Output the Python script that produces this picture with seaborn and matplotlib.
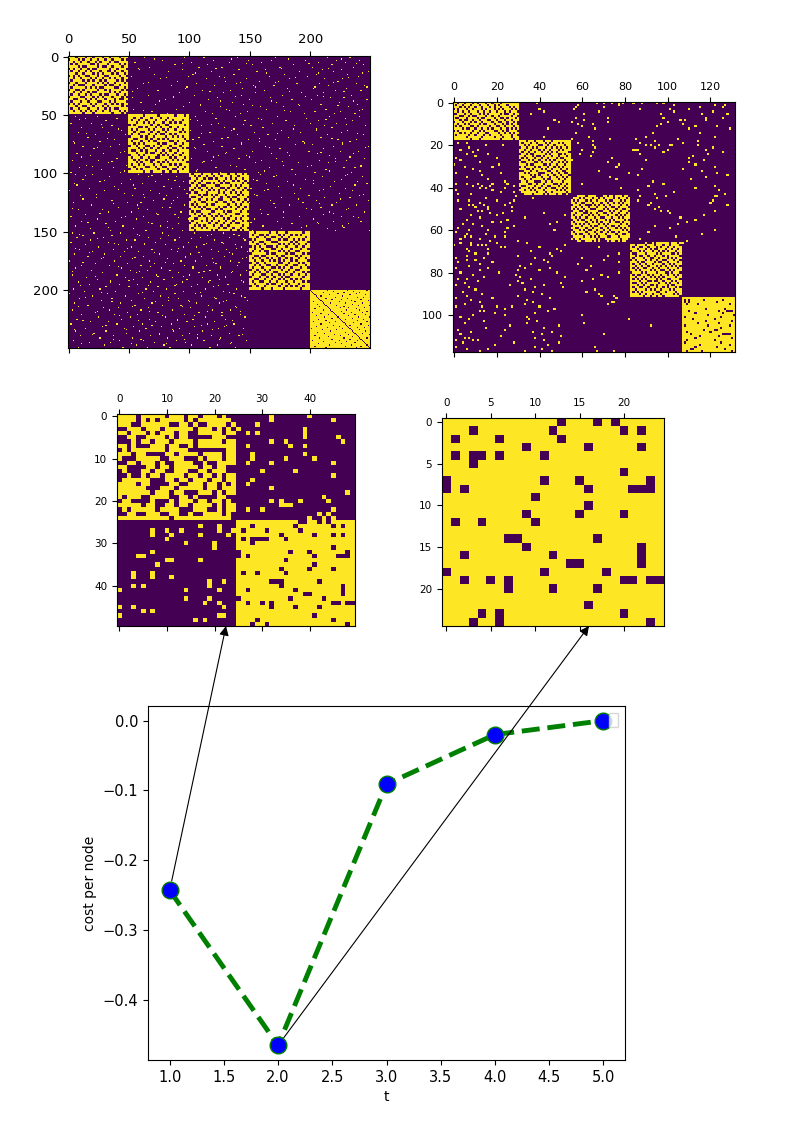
import numpy as np
import matplotlib
matplotlib.use("Agg")
import matplotlib.pyplot as plt
import seaborn as sns
from matplotlib.patches import Patch

# line panel
t_values = [1.0, 2.0, 3.0, 4.0, 5.0]
cost_values = [-0.243, -0.465, -0.091, -0.02, 0.0]

# 25x25 panel: dark cells per row, read cell by cell
m4_dark = {0: [13, 17, 19], 1: [3, 12, 20, 22], 2: [1, 6, 13], 3: [9, 16, 22], 4: [1, 3, 4, 6, 11],
           5: [3], 6: [20], 7: [0, 11, 15, 23], 8: [0, 2, 16, 21, 22, 23], 9: [10], 10: [16],
           11: [9, 15, 20], 12: [1, 4, 10], 14: [7, 8, 17], 15: [9, 22], 16: [2, 12, 22],
           17: [14, 15, 22], 18: [0, 11, 18], 19: [2, 5, 7, 20, 21, 23, 24], 20: [7, 12, 17],
           22: [16], 23: [4, 6, 20], 24: [3, 6, 23]}

# 50x50 panel: top left block is approximate, the other three were estimated cell by cell
m3_top_left = [
    "11110 11111 01110 11011 10100",
    "11110 10101 11110 10111 11110",
    "11100 11111 10011 01001 11101",
    "00111 01110 11111 10111 01010",
    "11011 10101 11011 00111 11011",
    "00110 01111 01011 00000 11100",
    "00010 11011 10111 10111 11011",
    "11010 00111 01100 10111 11111",
    "01011 11111 01111 00000 00011",
    "11101 10000 11011 11011 11011",
    "10001 11110 01110 00101 11011",
    "00110 11101 00111 10010 01111",
    "11000 01101 10111 11011 01100",
    "01000 11011 00111 00110 11100",
    "00100 10110 11110 11011 01011",
    "01111 11000 11011 01110 11011",
    "11110 11000 01100 11101 10101",
    "11111 10001 11011 11101 10111",
    "11111 11011 10110 00111 01011",
    "10111 00111 10011 01000 01100",
    "01100 00100 01011 10110 11010",
    "11111 01100 11011 01111 01011",
    "01011 11101 11100 01110 01011",
    "00110 01110 01100 10011 11010",
    "11111 11111 10111 11111 11110",
]
m3_top_right = {0: [32, 40], 1: [32, 45], 2: [29], 3: [25, 39], 4: [27, 29, 39], 5: [39, 46], 6: [32, 35, 47],
                7: [27, 36, 39], 9: [28, 39], 10: [28, 35, 41], 11: [27, 32, 45], 13: [30, 37], 14: [45],
                15: [28], 16: [27], 17: [32], 18: [48], 19: [43], 20: [32, 34, 38, 44], 21: [34, 35, 36],
                22: [27, 30, 45], 23: [42, 44], 24: [40, 43, 45]}
m3_bottom_left = {26: [17, 21], 27: [7, 10, 13, 21, 24], 28: [7, 11, 17, 23], 29: [10], 30: [14, 20], 31: [20],
                  32: [7], 33: [4, 5], 34: [10, 11, 17], 35: [8], 37: [3, 7], 38: [3, 7, 11], 39: [19, 22],
                  40: [3, 5, 19], 41: [0, 14, 21], 43: [14, 19], 44: [18, 21], 45: [0, 3, 22], 46: [5, 7],
                  47: [0, 21, 22], 48: [16, 18]}
m3_bottom_right_dark = {25: [38, 39, 42, 44], 26: [28, 37, 45, 47], 27: [26, 31, 38], 28: [34, 41, 45, 47],
                        29: [26, 28, 29, 30, 31, 35], 30: [28], 31: [45], 32: [25, 36, 40, 48],
                        33: [25, 27, 41, 46, 47, 48], 34: [35], 35: [41], 36: [34, 40, 45], 37: [26, 29, 35],
                        39: [32, 33, 34, 42], 40: [34, 47], 41: [27, 37, 47], 42: [39, 40, 47],
                        43: [25, 36, 43], 44: [27, 30, 32, 45, 46, 48, 49], 45: [32, 37, 42], 47: [41],
                        48: [29, 45], 49: [28, 31, 48]}

# 132x118 panel: block edges, cell patterns hand-typed to match the look only
m2_rows = [0, 18, 44, 66, 92, 118]
m2_cols = [0, 31, 55, 83, 107, 132]
m2_block1 = [
    "11011 01110 10111 01101 11011 111111",
    "10110 11101 11011 10110 10111 011111",
    "11101 01011 01101 11010 11011 101011",
    "01011 10110 11101 01110 10101 110101",
    "11010 11011 10110 11011 01110 101110",
    "00111 01101 11010 10111 11010 011011",
    "11100 11010 01111 01101 10111 110110",
    "10011 10111 10100 11110 11001 011101",
    "11101 00110 11011 10011 01110 110111",
    "01110 11101 01101 11101 10011 011010",
    "11011 01011 11010 01110 11101 010110",
    "10101 11100 10111 11011 00110 111011",
    "11110 10011 01101 10101 11011 010101",
    "01011 11110 11010 11110 01101 011110",
    "11101 01101 10111 00111 10110 101011",
    "10111 11011 01110 11011 11011 110110",
    "11111 10111 11101 11110 11101 110111",
    "11111 11101 11011 11111 11011 111011",
]
m2_block2 = [
    "11101 11011 10111 01111 1111",
    "10111 01101 11010 11101 0111",
    "11010 11110 01101 10111 1011",
    "01101 10101 11011 01010 1101",
    "11011 01110 10110 11101 0111",
    "10110 11011 01101 01011 1110",
    "01101 00111 11010 11100 1011",
    "11011 10100 10111 01101 1101",
    "10101 11011 01101 11010 0111",
    "01110 10110 11010 10111 1011",
    "10011 11001 01111 01101 0101",
    "11101 00111 10010 11011 1011",
    "01011 11010 11101 10101 0111",
    "11100 10111 01011 01110 1101",
    "00111 01101 11100 11011 0011",
    "11010 11110 00111 01101 1001",
    "11111 01010 11101 10110 1110",
    "10111 10011 01110 11011 0101",
    "11011 01111 10100 11101 1011",
    "01101 11000 11011 01111 0111",
    "11110 01101 10111 10010 1101",
    "10011 11011 01100 11101 1011",
    "01110 10110 11011 00111 0101",
    "11011 01011 10111 11010 1011",
    "01111 11101 11011 01111 1101",
    "00111 10111 10101 11011 0010",
]
m2_block3 = [
    "00011 11011 11000 11011 01110 110",
    "01110 10111 01101 01111 01011 101",
    "10101 11010 11011 10100 11101 011",
    "11011 00111 01110 11011 01010 111",
    "01110 11000 10101 01101 11101 101",
    "11011 01101 11011 10110 01011 110",
    "10101 10110 00111 01011 10110 011",
    "01110 01011 11100 11101 01101 110",
    "11011 10010 11011 00110 11011 101",
    "10111 01101 01101 11011 10101 011",
    "11010 11011 10110 01110 11010 111",
    "01101 00110 11011 10101 01111 010",
    "10111 11011 01010 11101 10010 111",
    "11010 10101 11101 01011 11101 101",
    "01111 01110 10011 10110 01011 110",
    "11001 11011 01110 11011 10101 011",
    "01110 10100 11011 01101 11110 101",
    "10111 11011 10110 11010 01011 110",
    "11010 01101 11011 10111 10110 011",
    "01111 10110 10101 11001 11011 111",
    "10110 11111 11010 01111 11101 110",
    "00011 00111 01010 00101 10101 100",
]
m2_block4 = [
    "00000 00100 10111 11101 1101",
    "11011 11011 10111 01101 1110",
    "10110 01101 11010 11011 0111",
    "11101 11010 10011 10110 1101",
    "01110 10111 01101 01011 1011",
    "10011 11011 11010 11110 0101",
    "11010 01101 10111 01011 1110",
    "10111 10110 01101 11010 1011",
    "01011 11010 11011 00111 0110",
    "11101 00111 10100 11011 1101",
    "10110 11011 01111 01101 0111",
    "11011 01101 11010 10110 1010",
    "10101 10011 01101 11011 1101",
    "11010 11110 10110 01101 0111",
    "01111 01011 11011 10010 1110",
    "10100 11101 01110 11011 0101",
    "11011 10110 10101 01111 1011",
    "10101 01011 11010 11001 1110",
    "11110 11100 10011 01110 1011",
    "10011 01011 11101 10101 1101",
    "11101 10110 01011 11010 0111",
    "10110 01101 11011 01011 1010",
    "11011 11010 10110 11101 0111",
    "10101 01111 11001 10111 1011",
    "11110 11011 01110 11111 0101",
    "11111 10110 11011 01111 1110",
]
m2_block5_dark = {93: [108, 110, 117, 126], 94: [108, 110, 123], 95: [109, 114, 129],
                  97: [118, 127], 98: [110, 124, 128, 129, 130], 99: [113, 126], 100: [119, 131],
                  101: [108, 125], 102: [112, 122], 103: [118, 130], 104: [114, 124], 105: [108, 119, 129],
                  106: [125], 107: [117, 122, 123], 108: [109, 120], 109: [111, 126, 127, 128, 129],
                  110: [115, 124], 111: [113, 130], 112: [109, 122], 113: [108, 125], 114: [115, 129],
                  115: [113, 123], 116: [111, 112, 127], 117: [109, 116, 130]}
m2_specks = {0: [39, 67, 70, 74, 77, 79, 84, 88, 95, 98], 1: [58, 77, 103, 122, 127], 2: [57, 70, 115, 126],
             3: [40, 56, 87, 101, 110], 4: [42, 68, 103, 121], 5: [36, 61, 97, 116, 128],
             7: [57, 72, 98, 118, 126], 8: [47, 61, 106, 108, 118], 9: [49, 55, 72, 100],
             10: [58, 65, 97, 107], 11: [60, 95, 113, 123], 12: [44, 66, 110, 129],
             14: [57, 93, 115], 16: [42, 63, 90, 122], 17: [55, 73, 85, 105],
             18: [65, 94, 114], 19: [2, 6, 58, 87, 107], 20: [15, 23, 65, 90, 92, 96, 101, 102, 114],
             21: [7, 66, 94, 121], 22: [3, 11, 60, 84, 85, 86, 100, 118], 23: [9, 65, 98, 126],
             24: [6, 16, 59, 87, 119], 25: [10, 64, 112], 26: [1, 20, 74, 110],
             27: [3, 55, 90, 117], 28: [12, 72, 110], 29: [0, 21, 77, 113], 30: [5, 18, 76, 122],
             31: [9, 88, 107], 32: [12, 68, 116], 33: [1, 22, 82, 123], 34: [13, 86, 128],
             35: [6, 73, 118], 36: [16, 76, 111], 37: [24, 93], 38: [1, 6, 11, 18, 25, 60, 98],
             39: [9, 13, 17, 28, 91, 122], 40: [12, 15, 24, 78, 113], 41: [1, 18, 86, 124],
             42: [22, 28, 103], 43: [2, 8, 94, 127], 44: [29, 87, 99, 122, 123], 45: [15, 37, 95],
             46: [2, 7, 20, 28, 86, 121], 47: [12, 26, 92, 120], 48: [7, 9, 14, 24, 91, 128],
             49: [10, 16, 27, 96], 50: [3, 16, 94], 51: [11, 13, 27, 97, 100, 122],
             52: [17, 23, 42, 101], 53: [8, 20, 52, 117], 54: [12, 33, 106], 55: [6, 25, 113],
             56: [18, 22, 48, 109], 57: [4, 9, 45, 105], 58: [13, 28, 94], 59: [2, 25, 101],
             60: [7, 16, 47, 122], 61: [1, 24, 91], 62: [6, 15, 116], 63: [5, 8, 19, 24, 104],
             64: [3, 12, 87], 65: [17, 30, 109], 66: [3, 8, 20, 34, 107], 67: [0, 8, 11, 13, 15, 52],
             68: [22, 24, 40, 68], 69: [6, 16, 48], 70: [7, 36, 50], 71: [10, 16, 45, 77],
             72: [6, 30, 46, 72], 73: [1, 14, 38, 60], 74: [6, 10, 42, 70], 75: [2, 18, 44, 77],
             76: [12, 36, 58], 77: [7, 31, 64], 78: [1, 16, 33, 45], 79: [12, 30, 40, 62],
             80: [3, 21, 48, 77], 81: [9, 29, 69], 82: [14, 31, 52, 72], 83: [2, 6, 36, 65],
             84: [11, 30, 60], 85: [5, 32, 50], 86: [1, 26, 42], 87: [7, 38, 51], 88: [10, 33, 66],
             89: [4, 37, 62], 90: [13, 41, 68], 91: [6, 30, 69, 75], 92: [1, 18, 45, 76], 93: [8, 34],
             94: [12, 37, 74, 75], 95: [5, 33, 72], 96: [1, 13, 20, 27, 40], 97: [24, 47], 98: [12, 14, 44],
             99: [19, 38], 100: [9, 24, 60], 101: [3, 34], 102: [7, 35, 82], 103: [14, 39], 104: [5, 34, 61],
             105: [26, 49, 92], 106: [15, 42], 107: [2, 24], 108: [8, 37, 46], 109: [3, 41, 70], 110: [22, 50],
             111: [5, 7, 38], 112: [1, 9, 11, 42], 113: [4, 28, 49], 114: [19, 44], 115: [1, 38, 66],
             116: [6, 16, 41], 117: [12, 33, 46, 67, 75]}

# 250x250 panel: too fine to read, hand-typed to match the look only. Diagonal blocks are in 2-cell steps
m1_block1 = [
    "11101 11011 01110 11011 10111", "01110 10110 11011 01101 11010", "11011 01101 10101 11010 01111",
    "10101 11110 01011 10111 10101", "11110 10011 11010 01101 11011", "01011 01101 00111 11011 01110",
    "10110 11010 11101 10010 11011", "11101 10111 01010 11101 01101", "01010 11001 11011 00111 10110",
    "11011 01110 10110 11010 11011", "10111 10101 01101 01111 01010", "01101 11011 11010 10110 11101",
    "11010 00111 01111 01001 10111", "10111 11010 10100 11110 01101", "01100 10111 11011 01011 11010",
    "11011 01101 00111 11010 10111", "10110 11010 11101 00111 01101", "01111 00111 01010 11101 11010",
    "11001 11010 10111 01110 10011", "10111 01101 11001 11010 11110", "01010 11110 10111 01101 01011",
    "11101 10011 01110 10111 11010", "10110 11101 11011 01010 01111", "11011 01010 10110 11011 10101",
    "11111 10111 01111 11101 11010",
]
m1_block2 = [
    "11111 10111 11011 11110 11101", "11011 01110 11101 10111 11111", "10110 11011 10111 01101 11011",
    "11101 10101 01110 11010 10111", "01011 11110 11011 00111 11101", "11110 01011 10101 11011 01111",
    "10101 11101 01110 10110 11011", "11011 00110 11011 01111 10101", "10110 11101 10100 11010 11111",
    "01111 01011 01111 01101 01011", "11001 11010 11010 10111 11101", "10111 01101 00111 11001 01110",
    "11010 10111 11010 01110 11011", "01101 11001 01101 11011 10111", "11110 10110 11011 10100 11010",
    "10011 01011 10110 11011 01111", "11101 11010 01101 01110 11011", "01110 10111 11010 10101 10111",
    "10111 01101 10011 11010 11101", "11010 11010 01111 01101 01011", "11101 01110 11010 10111 11110",
    "10110 10111 01101 11010 10111", "11011 11001 10110 01111 01101", "01101 01111 11011 10100 11011",
    "11111 10110 11110 11011 01111",
]
m1_block3 = [
    "10111 01110 11011 10110 11010", "11010 11011 01101 11011 01111", "01101 10100 10111 01010 11011",
    "11011 01111 11010 11101 01101", "10110 11001 01101 00111 11010", "01101 00111 10011 11010 10111",
    "11010 11010 11100 10111 01101", "10111 01101 01011 01101 11010", "01001 11011 11010 11010 10111",
    "11110 10010 10111 01111 01011", "10011 01111 01101 10100 11110", "01110 11010 11001 11011 01101",
    "11011 00111 10110 01101 11010", "10101 11010 01111 10110 10111", "11010 10111 11010 01011 01101",
    "01111 01001 10101 11110 11011", "10100 11110 01110 10011 10110", "11011 01101 11011 01110 01111",
    "01110 10110 10101 11011 11010", "11001 11011 01110 10110 10111", "10111 01010 11011 01101 11010",
    "01101 11101 10110 11010 01111", "11010 10111 01101 10111 11011", "10111 01011 11010 01101 10110",
    "11011 11110 10111 11011 01011",
]
m1_block4 = [
    "11011 11101 10111 01111 11011", "10110 01011 11010 11010 10111", "11101 10110 01101 10111 11101",
    "01011 11001 11010 01101 01011", "10110 01110 00111 11010 11110", "11101 10111 11010 10101 01101",
    "01010 11000 10111 01110 11011", "11011 01110 01101 11011 10110", "10110 10011 11010 10110 01111",
    "01111 11010 01111 01001 11010", "11001 00111 10100 11110 10111", "10110 11010 11011 01011 01101",
    "11011 01101 01010 11010 11110", "01101 10111 11001 10111 01011", "11010 11001 10111 01100 11101",
    "10111 01110 01010 11011 10110", "01101 10101 11101 10110 01111", "11010 11011 00111 01101 11010",
    "10111 00110 11010 11011 01101", "01110 11011 01101 00111 11011", "11001 10110 11010 11010 10111",
    "10110 01101 10111 01101 11010", "11011 11010 01101 10111 01111", "01101 10111 11011 01010 11011",
    "11111 01110 11110 11111 10111",
]
# fifth block is nearly full, with a dark diagonal
m1_block5_dark = {200: [200, 214, 231, 247], 201: [201, 219, 236], 202: [202, 211, 228, 241], 203: [203, 223, 238], 204: [204, 216, 233, 246],
                  205: [205, 209, 227], 206: [206, 221, 239, 244], 207: [207, 213, 231], 208: [208, 218, 226, 242], 209: [209, 234, 248],
                  210: [203, 210, 224, 237], 211: [211, 217, 229, 243], 212: [212, 206, 235], 213: [213, 222, 240, 249], 214: [214, 208, 228],
                  215: [215, 225, 232, 245], 216: [216, 204, 238], 217: [217, 211, 230, 241], 218: [218, 226, 247], 219: [219, 202, 234, 243],
                  220: [220, 209, 228], 221: [221, 215, 237, 246], 222: [222, 205, 232], 223: [223, 212, 240, 249], 224: [224, 218, 235],
                  225: [225, 207, 229, 244], 226: [226, 213, 239], 227: [227, 203, 221, 247], 228: [228, 216, 236], 229: [229, 209, 242],
                  230: [230, 219, 233, 248], 231: [231, 205, 224], 232: [232, 214, 239, 245], 233: [233, 201, 227], 234: [234, 210, 222, 241],
                  235: [235, 217, 246], 236: [236, 206, 229], 237: [237, 212, 243], 238: [238, 220, 232, 249], 239: [239, 204, 225],
                  240: [240, 215, 235], 241: [241, 208, 228, 247], 242: [242, 218, 233], 243: [243, 202, 224, 239], 244: [244, 211, 230],
                  245: [245, 221, 237], 246: [246, 207, 226], 247: [247, 216, 234], 248: [248, 204, 229, 242], 249: [249, 213, 238]}
m1_specks = {
    1: [63, 96, 112, 140, 171, 214, 233], 3: [78, 120, 149, 168, 196, 222, 241], 5: [55, 102, 133, 160, 207, 229], 7: [88, 115, 152, 186, 218, 244],
    9: [67, 108, 127, 175, 202, 236], 11: [59, 94, 141, 163, 210, 226], 13: [83, 118, 156, 191, 219, 248], 15: [71, 103, 137, 179, 205, 231],
    17: [52, 99, 125, 166, 198, 240], 19: [76, 114, 147, 183, 212, 227], 21: [90, 130, 158, 174, 223], 23: [62, 106, 139, 189, 208, 238],
    25: [85, 121, 153, 170, 215, 245], 27: [57, 97, 144, 181, 203, 230], 29: [74, 111, 134, 162, 221, 242], 31: [92, 128, 155, 193, 211],
    33: [66, 104, 143, 177, 206, 234], 35: [53, 87, 123, 167, 217, 228], 37: [80, 116, 150, 185, 201, 247], 39: [60, 100, 136, 172, 224],
    41: [72, 109, 145, 190, 209, 239], 43: [95, 126, 159, 178, 232], 45: [54, 89, 131, 164, 213, 243], 47: [69, 113, 148, 184, 204, 225],
    49: [82, 119, 142, 195, 220, 237], 51: [6, 24, 105, 138, 173, 216, 241], 53: [14, 40, 122, 157, 197, 229], 55: [31, 107, 146, 180, 207, 235],
    57: [2, 19, 124, 169, 200, 222], 59: [36, 110, 151, 187, 212, 246], 61: [11, 28, 129, 161, 218], 63: [44, 101, 135, 176, 205, 231],
    65: [8, 33, 117, 154, 192, 226], 67: [22, 47, 140, 165, 214, 244], 69: [16, 108, 132, 182, 209], 71: [38, 103, 149, 171, 223, 238],
    73: [4, 26, 120, 158, 194, 233], 75: [42, 112, 143, 188, 202, 227], 77: [12, 35, 127, 163, 219, 248], 79: [21, 105, 137, 175, 211],
    81: [46, 115, 152, 199, 225, 240], 83: [7, 29, 130, 168, 206, 236], 85: [18, 124, 147, 183, 216], 87: [40, 102, 141, 172, 221, 245],
    89: [3, 25, 118, 160, 208, 230], 91: [33, 111, 155, 190, 215], 93: [15, 48, 134, 178, 201, 242], 95: [9, 37, 122, 166, 228, 237],
    97: [27, 107, 146, 185, 213], 99: [2, 43, 126, 157, 204, 234], 101: [6, 20, 58, 77, 159, 188, 231], 103: [34, 66, 89, 170, 210, 243],
    105: [12, 51, 83, 153, 196, 226], 107: [26, 72, 95, 181, 220, 239], 109: [5, 44, 61, 164, 203, 247], 111: [38, 79, 92, 174, 217],
    113: [17, 55, 85, 151, 192, 229], 115: [1, 30, 68, 162, 208, 235], 117: [46, 75, 98, 187, 224], 119: [10, 53, 81, 156, 199, 241],
    121: [23, 63, 90, 176, 212, 233], 123: [36, 70, 87, 167, 205, 248], 125: [4, 49, 60, 150, 194, 222], 127: [19, 57, 96, 183, 218, 238],
    129: [41, 78, 84, 171, 209], 131: [8, 28, 65, 159, 201, 230], 133: [33, 52, 93, 178, 216, 245], 135: [14, 74, 88, 165, 211],
    137: [2, 47, 62, 191, 226, 236], 139: [24, 56, 99, 154, 203], 141: [11, 39, 82, 173, 219, 242], 143: [31, 69, 91, 185, 207, 232],
    145: [6, 45, 76, 161, 197, 227], 147: [18, 54, 86, 176, 214], 149: [35, 64, 94, 152, 221, 249], 151: [3, 21, 43, 78, 104, 128],
    153: [12, 36, 59, 83, 115, 141], 155: [7, 29, 66, 92, 109, 133], 157: [18, 48, 55, 88, 121, 146], 159: [2, 33, 72, 99, 127],
    161: [14, 41, 63, 80, 112, 138], 163: [25, 52, 95, 106, 143], 165: [9, 37, 69, 85, 118, 131], 167: [20, 46, 58, 90, 124, 148],
    169: [5, 30, 75, 101, 136], 171: [16, 43, 62, 97, 110, 129], 173: [27, 53, 82, 119, 144], 175: [1, 38, 67, 93, 105, 134],
    177: [22, 49, 71, 87, 122], 179: [11, 34, 60, 96, 114, 140], 181: [6, 44, 77, 103, 126], 183: [19, 51, 65, 84, 117, 147],
    185: [28, 56, 91, 108, 135], 187: [3, 40, 73, 100, 123, 142], 189: [15, 47, 61, 86, 111, 130], 191: [24, 54, 79, 98, 125],
    193: [8, 35, 68, 94, 116, 145], 195: [17, 42, 57, 89, 107, 132], 197: [31, 50, 74, 102, 120], 199: [4, 26, 64, 81, 113, 139],
    201: [13, 39, 70, 95, 128], 203: [1, 32, 58, 88, 105, 137], 205: [20, 47, 76, 110, 143], 207: [9, 36, 63, 91, 122],
    209: [27, 52, 83, 99, 131, 148], 211: [5, 43, 69, 106, 125], 213: [16, 55, 78, 93, 116], 215: [29, 41, 66, 101, 139],
    217: [3, 34, 60, 86, 119, 134], 219: [22, 49, 74, 108, 127], 221: [11, 38, 57, 96, 142], 223: [25, 51, 80, 113, 146],
    225: [7, 44, 67, 90, 103, 130], 227: [18, 33, 72, 98, 121], 229: [2, 40, 61, 85, 115, 137], 231: [28, 54, 77, 104, 129],
    233: [14, 46, 64, 92, 124, 145], 235: [6, 31, 59, 87, 111], 237: [21, 48, 75, 100, 133], 239: [10, 37, 68, 94, 118, 141],
    241: [26, 53, 82, 107, 126], 243: [4, 42, 62, 89, 112, 147], 245: [17, 35, 71, 97, 135], 247: [30, 56, 79, 102, 123],
    249: [8, 45, 65, 84, 117, 138],
}
m1_specks_even = {
    2: [71, 135, 182, 226], 6: [94, 147, 199, 238], 10: [58, 122, 176, 215], 14: [105, 164, 207, 243], 18: [81, 129, 188, 232],
    22: [66, 142, 171, 219], 26: [98, 155, 204, 247], 30: [53, 117, 183, 228], 34: [87, 138, 196, 211], 38: [75, 126, 168, 236],
    42: [109, 152, 191, 223], 46: [62, 133, 179, 241], 54: [9, 101, 160, 213], 58: [27, 118, 145, 230], 62: [41, 137, 186, 205],
    66: [15, 110, 173, 239], 70: [32, 127, 158, 218], 74: [5, 143, 195, 227], 78: [24, 104, 166, 246], 82: [43, 131, 181, 209],
    86: [11, 120, 150, 233], 90: [36, 112, 177, 221], 94: [20, 139, 198, 242], 98: [46, 106, 162, 216], 102: [14, 69, 172, 229],
    106: [30, 88, 156, 203], 110: [7, 54, 186, 237], 114: [41, 96, 165, 211], 118: [23, 62, 154, 244], 122: [12, 79, 190, 225],
    126: [37, 85, 170, 208], 130: [3, 58, 197, 232], 134: [26, 73, 160, 219], 138: [44, 91, 178, 240], 142: [16, 66, 151, 206],
    146: [33, 82, 193, 228], 152: [9, 57, 118, 137], 156: [24, 76, 102, 145], 160: [38, 63, 114, 128], 164: [6, 49, 91, 139],
    168: [17, 71, 108, 133], 172: [29, 55, 97, 147], 176: [12, 80, 120, 141], 180: [41, 68, 103, 126], 184: [3, 59, 112, 136],
    188: [22, 74, 95, 130], 192: [35, 50, 117, 143], 196: [10, 66, 88, 124], 202: [27, 61, 109, 133], 206: [14, 83, 121, 146],
    210: [36, 72, 100, 128], 214: [8, 53, 94, 138], 218: [24, 67, 115, 142], 222: [42, 78, 104, 127], 226: [12, 58, 90, 136],
    230: [31, 69, 110, 131], 234: [5, 48, 86, 119], 238: [20, 75, 107, 144], 242: [37, 60, 96, 125], 246: [11, 52, 81, 134],
}


def fill_rows(mat, r0, c0, rows, step=1):
    for i, row in enumerate(rows):
        for j, ch in enumerate(row.replace(" ", "")):
            if ch == "1":
                mat[r0 + i * step:r0 + (i + 1) * step, c0 + j * step:c0 + (j + 1) * step] = 1


def set_cells(mat, cells, value):
    for r, cols in cells.items():
        for c in cols:
            mat[r, c] = value


m1 = np.zeros((250, 250))
for k, block in enumerate([m1_block1, m1_block2, m1_block3, m1_block4]):
    fill_rows(m1, k * 50, k * 50, block, step=2)
m1[200:, 200:] = 1
set_cells(m1, m1_block5_dark, 0)
set_cells(m1, m1_specks, 1)
set_cells(m1, m1_specks_even, 1)

m2 = np.zeros((118, 132))
for k, block in enumerate([m2_block1, m2_block2, m2_block3, m2_block4]):
    fill_rows(m2, m2_rows[k], m2_cols[k], block)
m2[92:, 107:] = 1
set_cells(m2, m2_block5_dark, 0)
set_cells(m2, m2_specks, 1)

m3 = np.zeros((50, 50))
fill_rows(m3, 0, 0, m3_top_left)
m3[25:, 25:] = 1
set_cells(m3, m3_bottom_right_dark, 0)
set_cells(m3, m3_top_right, 1)
set_cells(m3, m3_bottom_left, 1)

m4 = np.ones((25, 25))
set_cells(m4, m4_dark, 0)

W, H = 794, 1123
fig = plt.figure(figsize=(W / 100, H / 100), dpi=100)


def add_px_axes(left, top, right, bottom):
    return fig.add_axes([left / W, 1 - bottom / H, (right - left) / W, (bottom - top) / H])


def draw_matrix(mat, box, xticks, yticks, fontsize):
    ax = add_px_axes(*box)
    sns.heatmap(mat, ax=ax, cmap="viridis", vmin=0, vmax=1, cbar=False, xticklabels=False, yticklabels=False)
    ax.set_xticks(np.array(xticks) + 0.5)
    ax.set_yticks(np.array(yticks) + 0.5)
    ax.set_xticklabels(xticks, fontsize=fontsize, rotation=0)
    ax.set_yticklabels(yticks, fontsize=fontsize, rotation=0)
    ax.tick_params(axis="x", top=True, bottom=True, labeltop=True, labelbottom=False)
    for s in ax.spines.values():
        s.set_visible(True)
    return ax


ax1 = draw_matrix(m1, (68, 56, 370, 348), [0, 50, 100, 150, 200], [0, 50, 100, 150, 200], 9.5)
ax2 = draw_matrix(m2, (453, 102, 735, 352), [0, 20, 40, 60, 80, 100, 120], [0, 20, 40, 60, 80, 100], 8)
ax3 = draw_matrix(m3, (117, 414, 355, 626), [0, 10, 20, 30, 40], [0, 10, 20, 30, 40], 7.5)
ax4 = draw_matrix(m4, (442, 418, 664, 626), [0, 5, 10, 15, 20], [0, 5, 10, 15, 20], 7.5)

ax5 = add_px_axes(148, 706, 625, 1060)
sns.lineplot(x=t_values, y=cost_values, ax=ax5, color="green", linestyle="--", linewidth=3.5, errorbar=None,
             marker="o", markersize=12, markerfacecolor="blue", markeredgecolor="green", markeredgewidth=1)
ax5.margins(x=0.05, y=0.045)
ax5.set_xlabel("t", fontsize=10)
ax5.set_ylabel("cost per node", fontsize=10)
ax5.tick_params(labelsize=10.5)
# empty legend box, as in the reference
ax5.legend(handles=[Patch(visible=False)], labels=[""], loc="upper right", fontsize=4, handlelength=0, handleheight=0.1,
           handletextpad=0, borderpad=0.8, borderaxespad=1.25)

for target_ax, frac, idx in [(ax3, 0.458, 0), (ax4, 0.662, 1)]:
    ax5.annotate("", xy=(frac, 0), xycoords=target_ax.transAxes, xytext=(t_values[idx], cost_values[idx]),
                 textcoords="data", annotation_clip=False,
                 arrowprops=dict(arrowstyle="-|>", color="black", lw=0.8, shrinkA=7, shrinkB=0, mutation_scale=14))

fig.savefig("out.png", dpi=100)
